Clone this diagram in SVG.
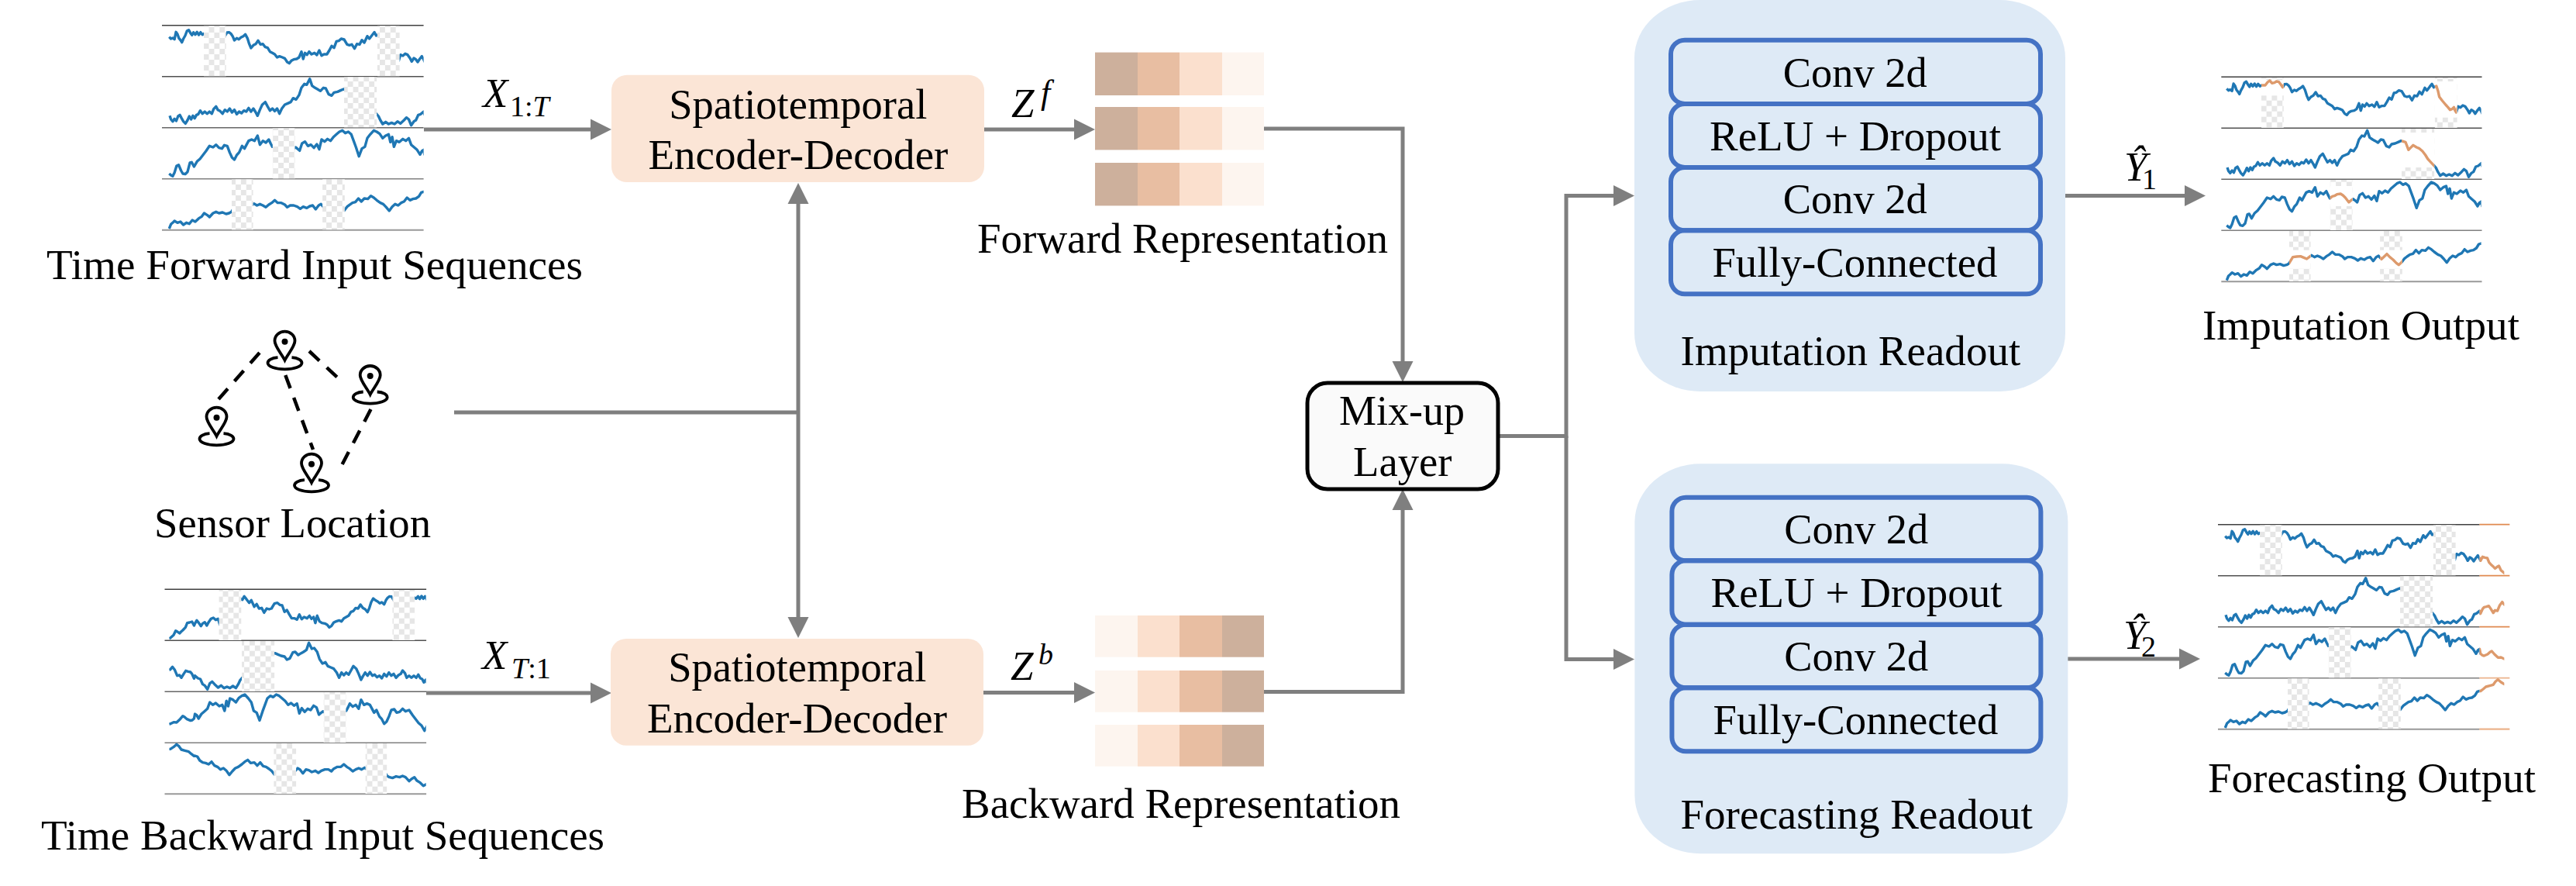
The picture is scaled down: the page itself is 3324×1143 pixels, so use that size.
<svg xmlns="http://www.w3.org/2000/svg" width="3324" height="1143" viewBox="0 0 3324 1143">
<style>
.t{font-family:"Liberation Serif","Times New Roman",serif;font-size:54px;fill:#000}
.m{font-family:"Liberation Serif","Times New Roman",serif;font-size:53px;font-style:italic;fill:#000}
.s{font-family:"Liberation Serif","Times New Roman",serif;font-size:38px;fill:#000}
.i{font-style:italic}
.c{fill:none;stroke:#7f7f7f;stroke-width:5}
.ser polyline{fill:none;stroke-width:3.4;stroke-linejoin:round;vector-effect:non-scaling-stroke}
.blue{stroke:#1f77b4}
.or{stroke:#dd9a6c}
.enc{fill:#fbe5d6}
.ro{fill:#deeaf6}
.lay{fill:none;stroke:#4472c4;stroke-width:6}
.pin{fill:none;stroke:#000;stroke-width:3.8}
.dash{stroke:#000;stroke-width:4.5;stroke-dasharray:18 13;fill:none}
.c1{fill:#cdb09c}.c2{fill:#e8bea2}.c3{fill:#fbe0ce}.c4{fill:#fdf5ef}
</style>
<defs>
<marker id="a" markerUnits="userSpaceOnUse" markerWidth="28" markerHeight="28" refX="1" refY="14" orient="auto-start-reverse"><path d="M0,0.5L27,14L0,27.5z" fill="#7f7f7f"/></marker>
<pattern id="chk" patternUnits="userSpaceOnUse" width="36" height="42"><rect width="36" height="42" fill="#fff"/><rect width="18" height="21" fill="#e6e6e6"/><rect x="18" y="21" width="18" height="21" fill="#e6e6e6"/></pattern>
<clipPath id="cF"><rect x="95" y="0" width="863" height="1000"/></clipPath>
<clipPath id="cB"><rect x="179" y="0" width="866" height="1000"/></clipPath>
<clipPath id="cO"><rect x="958" y="0" width="83" height="1000"/></clipPath>
<clipPath id="cG"><rect x="217" y="98" width="75" height="198"/><rect x="802" y="98" width="75" height="198"/><rect x="690" y="296" width="110" height="198"/><rect x="449" y="494" width="75" height="198"/><rect x="311" y="692" width="72" height="198"/><rect x="617" y="692" width="75" height="198"/></clipPath>
<g id="series" class="ser">
<polyline points="100,143 106,150 112,147 118,152 123,124 128,132 133,148 138,155 143,164 148,150 154,138 160,120 166,116 172,128 177,136 182,125 188,134 194,124 200,135 206,125 212,134 218,130 230,130 238,118 245,112 253,122 261,120 268,115 276,117 283,128 289,138 295,126 302,125 308,130 314,140 320,156 328,148 335,152 342,145 350,140 357,133 364,148 370,170 376,186 384,175 392,170 400,157 408,172 416,170 424,182 432,185 440,200 448,205 456,210 464,222 472,218 482,222 490,226 498,240 505,245 512,235 520,230 530,228 538,222 546,200 552,228 558,205 565,212 572,200 580,210 590,205 598,213 606,195 614,215 622,210 632,210 640,195 648,178 656,185 664,160 672,158 680,150 690,153 700,172 708,175 716,172 725,188 733,170 742,172 750,155 758,165 768,140 775,150 785,135 792,125 798,138 807,133 812,150 817,175 827,190 838,205 846,215 853,225 860,222 866,215 870,228 874,235 880,212 888,216 896,208 904,212 912,225 918,238 925,225 932,230 938,240 945,228 952,218 958,230 961,238 968,223 976,226 984,228 990,245 999,256 1005,262 1010,268 1017,262 1023,258 1030,275 1041,286 1045,288"/>
<polyline points="102,448 106,462 112,470 118,460 124,468 130,450 136,445 142,458 148,470 155,478 162,465 168,450 174,462 180,448 186,458 192,445 198,442 205,428 212,440 220,432 228,440 236,432 244,440 250,422 258,412 264,425 272,430 280,440 288,425 296,432 304,420 312,435 320,425 328,442 336,432 344,438 352,428 360,432 368,418 376,432 384,420 392,435 398,448 406,425 414,405 424,395 432,412 440,428 448,420 456,430 464,420 472,440 480,420 490,405 500,400 510,395 518,380 528,385 538,368 546,340 556,325 564,328 574,305 582,332 592,340 600,345 610,352 620,340 628,342 638,365 648,370 656,358 668,355 678,350 688,345 703,350 708,365 713,380 720,372 729,362 740,370 750,375 760,385 770,400 778,415 786,425 794,435 800,442 806,450 812,465 820,480 830,472 840,480 850,475 860,480 870,470 880,478 892,465 900,455 908,462 916,485 925,470 932,465 940,445 948,442 958,432 961,443 968,425 973,418 981,416 989,413 996,425 1004,440 1010,430 1018,432 1026,410 1034,398 1041,408 1045,410"/>
<polyline points="100,672 106,678 112,682 118,668 125,642 132,638 140,660 146,672 154,674 162,665 170,630 176,628 184,645 194,625 204,615 214,600 224,585 236,565 248,570 258,560 268,572 278,575 286,562 296,565 304,590 312,610 320,618 328,600 336,590 346,565 354,575 368,545 378,540 388,545 398,525 406,560 416,545 426,552 436,540 442,555 448,568 456,560 463,558 472,552 484,550 492,556 500,565 506,574 512,583 520,575 526,570 532,575 540,583 548,555 558,548 568,565 578,560 588,572 598,558 606,578 614,540 624,548 634,538 644,545 654,530 664,520 674,510 684,505 694,515 704,510 714,520 722,545 730,570 740,605 750,575 760,568 768,535 778,520 790,505 800,510 810,518 820,535 830,525 840,520 846,550 852,530 858,568 866,545 876,550 888,538 898,545 908,535 916,560 926,570 936,580 946,598 952,585 958,580 961,598 967,604 973,606 985,600 993,592 999,588 1008,600 1020,613 1030,612 1041,618 1045,620"/>
<polyline points="100,885 106,868 112,862 118,855 128,862 138,858 148,870 158,862 168,866 178,852 188,858 200,845 210,838 218,825 228,832 236,840 248,825 258,820 268,825 280,822 292,828 302,825 310,820 323,795 336,793 349,792 360,797 370,802 378,795 386,788 396,795 406,790 416,795 426,802 436,792 446,785 456,775 466,785 478,785 490,792 498,802 508,795 520,795 532,800 542,808 552,800 564,805 574,798 584,795 594,810 604,795 612,790 622,803 640,783 650,795 661,805 672,818 680,825 690,815 700,800 708,793 718,785 728,782 738,768 748,780 758,768 770,770 780,758 790,765 800,775 812,785 822,790 832,802 842,816 852,800 862,790 872,795 882,785 892,780 902,765 912,775 922,770 932,768 942,760 950,745 958,742 961,743 970,735 979,726 992,722 1004,718 1012,705 1020,698 1030,708 1041,716 1045,716"/>
</g>
<g id="gaps" fill="url(#chk)">
<rect x="217" y="100" width="75" height="195"/><rect x="802" y="100" width="75" height="195"/><rect x="690" y="298" width="110" height="195"/><rect x="449" y="496" width="75" height="195"/><rect x="311" y="694" width="72" height="195"/><rect x="617" y="694" width="75" height="195"/>
</g>
<g id="rules" stroke-width="1.6">
<line x2="337.6" y1="0" y2="0" stroke="#404040"/><line x2="337.6" y1="66" y2="66" stroke="#505050"/><line x2="337.6" y1="132" y2="132" stroke="#666"/><line x2="337.6" y1="198" y2="198" stroke="#808080"/><line x2="337.6" y1="264" y2="264" stroke="#999" stroke-width="2"/>
</g>
<g id="pinshape" class="pin">
<path d="M0,24C-4,16-13,6-13,-1A13,12 0 1 1 13,-1C13,6 4,16 0,24Z"/>
<path d="M-9,20.5C-17,21-22,24-22,27.6C-22,32-12,35.6 0,35.6C12,35.6 22,32 22,27.6C22,24 17,21 9,20.5"/>
<circle r="4" fill="#000" stroke="none"/>
</g>
</defs>
<rect width="3324" height="1143" fill="#fff"/>

<g id="connectors">
<path class="c" marker-end="url(#a)" d="M547,167H763"/>
<path class="c" marker-end="url(#a)" d="M550,894H763"/>
<path class="c" marker-end="url(#a)" d="M1270,167H1387"/>
<path class="c" marker-end="url(#a)" d="M1269,893.5H1387"/>
<path class="c" d="M586,532H1030"/>
<path class="c" marker-start="url(#a)" marker-end="url(#a)" d="M1030,262V797"/>
<path class="c" marker-end="url(#a)" d="M1631,166H1810V467"/>
<path class="c" marker-end="url(#a)" d="M1631,892.5H1810V657"/>
<path class="c" marker-end="url(#a)" d="M1935,562.5H2021V252.5H2083"/>
<path class="c" marker-end="url(#a)" d="M2021,562.5V850.5H2083"/>
<path class="c" marker-end="url(#a)" d="M2665,252.5H2820"/>
<path class="c" marker-end="url(#a)" d="M2668,850H2813"/>
</g>

<g id="forward-input">
<use href="#rules" transform="translate(209,32.7)"/>
<g transform="translate(180,0) scale(.3827,.33333)"><g clip-path="url(#cF)"><use href="#series" class="blue"/></g><use href="#gaps"/></g>
<text class="t" x="60" y="360" textLength="692" lengthAdjust="spacingAndGlyphs">Time Forward Input Sequences</text>
</g>

<g id="backward-input">
<use href="#rules" transform="translate(212.5,760.3)"/>
<g transform="translate(618.2,727.67) scale(-.3827,.33333)"><g clip-path="url(#cB)"><use href="#series" class="blue"/></g><use href="#gaps"/></g>
<text class="t" x="53" y="1096" textLength="727" lengthAdjust="spacingAndGlyphs">Time Backward Input Sequences</text>
</g>

<g id="sensor-location">
<path class="dash" d="M282,515L337,452.7"/>
<path class="dash" d="M399,453L436.4,488"/>
<path class="dash" d="M368.3,484L404,580"/>
<path class="dash" d="M478.5,528L440.2,601.7"/>
<use href="#pinshape" transform="translate(367.5,440.7)"/>
<use href="#pinshape" transform="translate(477.7,485)"/>
<use href="#pinshape" transform="translate(279.5,538.7)"/>
<use href="#pinshape" transform="translate(402,598.7)"/>
<text class="t" x="199" y="693" textLength="357" lengthAdjust="spacingAndGlyphs">Sensor Location</text>
</g>

<g id="encoder-top">
<rect class="enc" x="789" y="96.7" width="481" height="138.3" rx="20"/>
<text class="t" x="863.3" y="152.7" textLength="333" lengthAdjust="spacingAndGlyphs">Spatiotemporal</text>
<text class="t" x="836.4" y="218" textLength="387" lengthAdjust="spacingAndGlyphs">Encoder-Decoder</text>
</g>
<g id="encoder-bottom">
<rect class="enc" x="788" y="824" width="481" height="137.7" rx="20"/>
<text class="t" x="862.3" y="879.3" textLength="333" lengthAdjust="spacingAndGlyphs">Spatiotemporal</text>
<text class="t" x="835" y="945" textLength="387" lengthAdjust="spacingAndGlyphs">Encoder-Decoder</text>
</g>

<g id="label-x1t"><text class="m" x="623" y="138">X</text><text class="s" x="658" y="150">1:<tspan class="i">T</tspan></text></g>
<g id="label-xt1"><text class="m" x="622" y="863">X</text><text class="s" x="660" y="875"><tspan class="i">T</tspan>:1</text></g>
<g id="label-zf"><text class="m" x="1305" y="151">Z</text><text class="s i" x="1343" y="134" font-size="44" style="font-size:44px">f</text></g>
<g id="label-zb"><text class="m" x="1304" y="877">Z</text><text class="s i" x="1340" y="857">b</text></g>
<g id="label-y1"><text class="m" x="2741" y="232.7">Ŷ</text><text class="s" x="2764" y="244">1</text></g>
<g id="label-y2"><text class="m" x="2740" y="837">Ŷ</text><text class="s" x="2763" y="847">2</text></g>

<g id="forward-representation">
<g id="fr1"><rect class="c1" x="1413" y="67.6" width="55" height="55.4"/><rect class="c2" x="1468" y="67.6" width="54" height="55.4"/><rect class="c3" x="1522" y="67.6" width="55" height="55.4"/><rect class="c4" x="1577" y="67.6" width="54" height="55.4"/></g>
<use href="#fr1" y="70.4"/>
<use href="#fr1" y="142.4"/>
<text class="t" x="1261" y="326" textLength="530" lengthAdjust="spacingAndGlyphs">Forward Representation</text>
</g>

<g id="backward-representation">
<g id="br1"><rect class="c4" x="1413" y="794" width="55" height="53.7"/><rect class="c3" x="1468" y="794" width="54" height="53.7"/><rect class="c2" x="1522" y="794" width="55" height="53.7"/><rect class="c1" x="1577" y="794" width="54" height="53.7"/></g>
<use href="#br1" y="71"/>
<use href="#br1" y="141"/>
<text class="t" x="1241" y="1055" textLength="566" lengthAdjust="spacingAndGlyphs">Backward Representation</text>
</g>

<g id="mixup">
<rect x="1687" y="494" width="246" height="137" rx="26" fill="#fafafa" stroke="#000" stroke-width="5"/>
<text class="t" x="1728" y="548" textLength="162" lengthAdjust="spacingAndGlyphs">Mix-up</text>
<text class="t" x="1746" y="614" textLength="127.5" lengthAdjust="spacingAndGlyphs">Layer</text>
</g>

<g id="imputation-readout">
<rect class="ro" x="2109" y="0" width="556" height="505" rx="85" ry="75"/>
<rect class="lay" x="2156" y="51.7" width="477" height="82.3" rx="18"/>
<rect class="lay" x="2156" y="134" width="477" height="82" rx="18"/>
<rect class="lay" x="2156" y="216" width="477" height="81.3" rx="18"/>
<rect class="lay" x="2156" y="297.3" width="477" height="82" rx="18"/>
<text class="t" x="2300.7" y="111.7" textLength="186" lengthAdjust="spacingAndGlyphs">Conv 2d</text>
<text class="t" x="2206" y="194" textLength="376" lengthAdjust="spacingAndGlyphs">ReLU + Dropout</text>
<text class="t" x="2300.7" y="275" textLength="186" lengthAdjust="spacingAndGlyphs">Conv 2d</text>
<text class="t" x="2209.4" y="357" textLength="368" lengthAdjust="spacingAndGlyphs">Fully-Connected</text>
<text class="t" x="2168.6" y="470.7" textLength="438.6" lengthAdjust="spacingAndGlyphs">Imputation Readout</text>
</g>

<g id="forecasting-readout">
<rect class="ro" x="2109.4" y="598.3" width="559" height="503" rx="85" ry="75"/>
<rect class="lay" x="2157.4" y="641.7" width="476" height="81.6" rx="18"/>
<rect class="lay" x="2157.4" y="723.3" width="476" height="82.4" rx="18"/>
<rect class="lay" x="2157.4" y="805.7" width="476" height="81.6" rx="18"/>
<rect class="lay" x="2157.4" y="887.3" width="476" height="82" rx="18"/>
<text class="t" x="2302.2" y="700.7" textLength="186" lengthAdjust="spacingAndGlyphs">Conv 2d</text>
<text class="t" x="2207.5" y="783.3" textLength="376" lengthAdjust="spacingAndGlyphs">ReLU + Dropout</text>
<text class="t" x="2302.2" y="865" textLength="186" lengthAdjust="spacingAndGlyphs">Conv 2d</text>
<text class="t" x="2210.5" y="946.7" textLength="368" lengthAdjust="spacingAndGlyphs">Fully-Connected</text>
<text class="t" x="2168.4" y="1069.3" textLength="454.5" lengthAdjust="spacingAndGlyphs">Forecasting Readout</text>
</g>

<g id="imputation-output">
<use href="#rules" transform="translate(2866.3,99.3) scale(.996,1)"/>
<g transform="translate(2835,66.67) scale(.3827,.33333)">
<g clip-path="url(#cF)"><use href="#series" class="blue"/></g>
<use href="#gaps"/>
<g fill="#fff"><rect x="217" y="110" width="75" height="60"/><rect x="802" y="115" width="75" height="140"/><rect x="690" y="313" width="110" height="135"/><rect x="449" y="520" width="75" height="78"/><rect x="311" y="768" width="72" height="72"/><rect x="617" y="768" width="75" height="72"/></g>
<g clip-path="url(#cG)"><use href="#series" class="or"/></g>
</g>
<text class="t" x="2842" y="438" textLength="409" lengthAdjust="spacingAndGlyphs">Imputation Output</text>
</g>

<g id="forecasting-output">
<use href="#rules" transform="translate(2862,676.7)"/>
<g stroke-width="1.8"><line x1="3199.4" x2="3238.4" y1="676.7" y2="676.7" stroke="#e08a50"/><line x1="3199.4" x2="3238.4" y1="742.7" y2="742.7" stroke="#e08a50"/><line x1="3199.4" x2="3238.4" y1="808.7" y2="808.7" stroke="#e08a50"/><line x1="3199.4" x2="3238.4" y1="874.7" y2="874.7" stroke="#ecb48c"/><line x1="3199.4" x2="3238.4" y1="940.7" y2="940.7" stroke="#ecb48c" stroke-width="2.2"/></g>
<g transform="translate(2833,644) scale(.3827,.33333)">
<g clip-path="url(#cF)"><use href="#series" class="blue"/></g>
<use href="#gaps"/>
<g clip-path="url(#cO)"><use href="#series" class="or"/></g>
</g>
<text class="t" x="2849" y="1022" textLength="423" lengthAdjust="spacingAndGlyphs">Forecasting Output</text>
</g>
</svg>
